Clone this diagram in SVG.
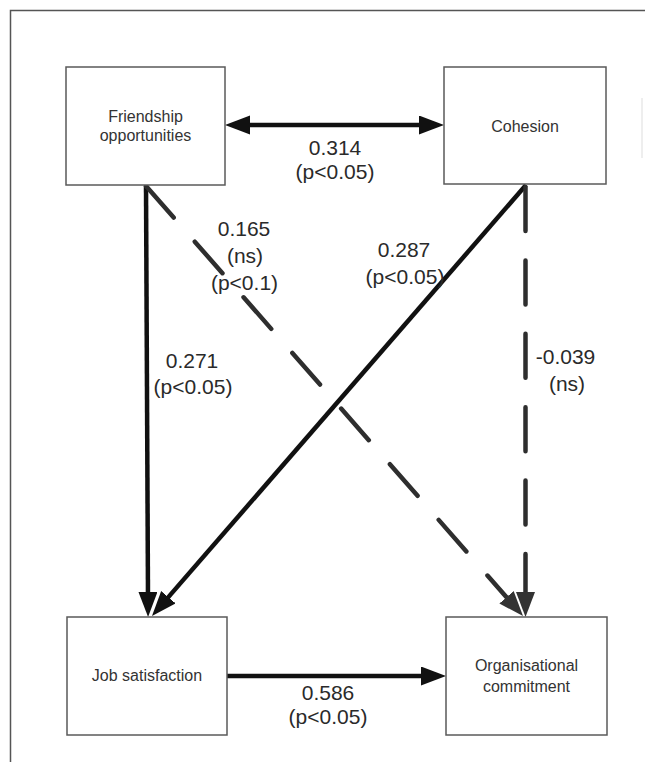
<svg xmlns="http://www.w3.org/2000/svg" width="645" height="762" viewBox="0 0 645 762">
  <style>
    .box { fill: #ffffff; stroke: #5a5a5a; stroke-width: 1.5; }
    .node-text { font-family: "Liberation Sans", Arial, sans-serif; font-size: 16px; fill: #333333; text-anchor: middle; }
    .label { font-family: "Liberation Sans", Arial, sans-serif; font-size: 21px; fill: #2a2a2a; text-anchor: middle; }
    .solid { fill: none; stroke: #111111; stroke-width: 4.5; }
    .dashed { fill: none; stroke: #2e2e2e; stroke-width: 4.5; stroke-linecap: round; }
  </style>
  <defs>
    <marker id="head" markerUnits="userSpaceOnUse" markerWidth="26" markerHeight="20" refX="5" refY="9.5" orient="auto-start-reverse">
      <path d="M0,0 L25,9.5 L0,19 z" fill="#111111"/>
    </marker>
    <marker id="head-grey" markerUnits="userSpaceOnUse" markerWidth="26" markerHeight="20" refX="5" refY="9.5" orient="auto">
      <path d="M0,0 L25,9.5 L0,19 z" fill="#333333"/>
    </marker>
  </defs>

  <!-- page frame -->
  <path d="M10.5,762 V10.5 H645" fill="none" stroke="#555555" stroke-width="1.5"/>
  <line x1="642" y1="98" x2="642" y2="158" stroke="#dddddd" stroke-width="1"/>

  <!-- connectors -->
  <g id="connectors">
    <!-- Friendship opportunities <-> Cohesion -->
    <line class="solid" x1="245" y1="125" x2="424" y2="125" marker-start="url(#head)" marker-end="url(#head)"/>
    <!-- Friendship opportunities -> Job satisfaction -->
    <line class="solid" x1="146" y1="186" x2="148" y2="597" marker-end="url(#head)"/>
    <!-- Cohesion -> Job satisfaction -->
    <line class="solid" x1="526" y1="185" x2="165.1" y2="600.9" marker-end="url(#head)"/>
    <!-- Friendship opportunities -> Organisational commitment -->
    <line class="dashed" x1="146" y1="186" x2="509.8" y2="601" stroke-dasharray="42 32" marker-end="url(#head-grey)"/>
    <!-- Cohesion -> Organisational commitment -->
    <line class="dashed" x1="525.5" y1="187" x2="525.5" y2="597" stroke-dasharray="44 29.4" marker-end="url(#head-grey)"/>
    <!-- Job satisfaction -> Organisational commitment -->
    <line class="solid" x1="227" y1="676" x2="426" y2="676" marker-end="url(#head)"/>
  </g>

  <!-- path coefficients -->
  <g id="labels">
    <text class="label" x="335" y="155">0.314</text>
    <text class="label" x="335" y="179">(p&lt;0.05)</text>
    <text class="label" x="244" y="236">0.165</text>
    <text class="label" x="245" y="263">(ns)</text>
    <text class="label" x="244.5" y="290">(p&lt;0.1)</text>
    <text class="label" x="404" y="257">0.287</text>
    <text class="label" x="405" y="284">(p&lt;0.05)</text>
    <text class="label" x="192" y="368">0.271</text>
    <text class="label" x="193" y="394">(p&lt;0.05)</text>
    <text class="label" x="565.5" y="364">-0.039</text>
    <text class="label" x="567" y="391">(ns)</text>
    <text class="label" x="328" y="700">0.586</text>
    <text class="label" x="328" y="724">(p&lt;0.05)</text>
  </g>

  <!-- constructs -->
  <g id="friendship">
    <rect class="box" x="66" y="67" width="159" height="118"/>
    <text class="node-text" x="145.5" y="122">Friendship</text>
    <text class="node-text" x="145.5" y="141">opportunities</text>
  </g>
  <g id="cohesion">
    <rect class="box" x="444" y="67" width="162" height="117"/>
    <text class="node-text" x="525" y="132">Cohesion</text>
  </g>
  <g id="job-satisfaction">
    <rect class="box" x="67" y="617" width="160" height="118"/>
    <text class="node-text" x="147" y="681">Job satisfaction</text>
  </g>
  <g id="organisational-commitment">
    <rect class="box" x="446" y="617" width="161" height="118"/>
    <text class="node-text" x="526.5" y="671">Organisational</text>
    <text class="node-text" x="526.5" y="692">commitment</text>
  </g>
</svg>
